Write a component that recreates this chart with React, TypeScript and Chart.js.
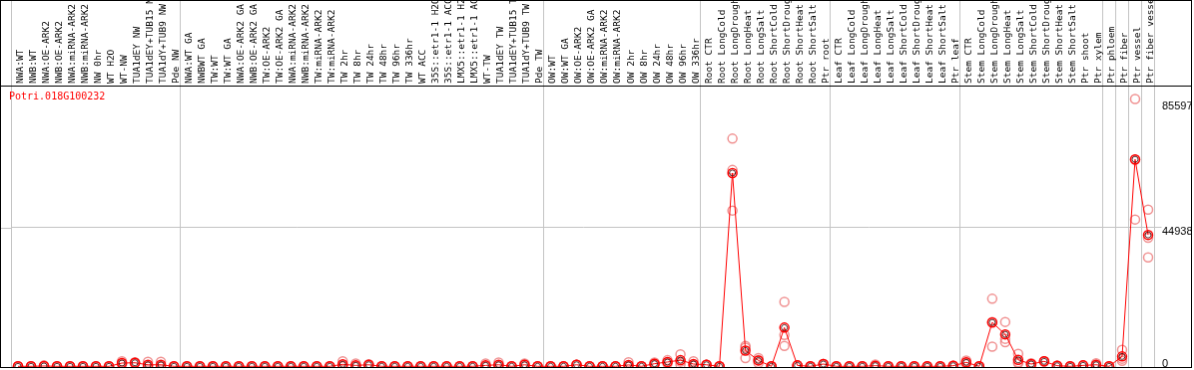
import React, { useEffect, useRef } from "react";
import { Chart, registerables } from "chart.js";

Chart.register(...registerables);

const geneId = "Potri.018G100232";

const categories = [
  "NWA:WT", "NWB:WT", "NWA:OE-ARK2", "NWB:OE-ARK2", "NWA:miRNA-ARK2", "NWB:miRNA-ARK2",
  "NW 0hr", "WT H2O", "WT-NW", "TUA1dEY NW", "TUA1dEY+TUB15 NW", "TUA1dY+TUB9 NW", "Pde NW",
  "NWA:WT GA", "NWBWT GA", "TW:WT", "TW:WT GA", "NWA:OE-ARK2 GA", "NWB:OE-ARK2 GA",
  "TW:OE-ARK2", "TW:OE-ARK2 GA", "NWA:miRNA-ARK2", "NWB:miRNA-ARK2", "TW:miRNA-ARK2",
  "TW:miRNA-ARK2", "TW 2hr", "TW 8hr", "TW 24hr", "TW 48hr", "TW 96hr", "TW 336hr", "WT ACC",
  "35S::etr1-1 H2O", "35S::etr1-1 ACC", "LMX5::etr1-1 H2O", "LMX5::etr1-1 ACC", "WT-TW",
  "TUA1dEY TW", "TUA1dEY+TUB15 TW", "TUA1dY+TUB9 TW", "Pde TW",
  "OW:WT", "OW:WT GA", "OW:OE-ARK2", "OW:OE-ARK2 GA", "OW:miRNA-ARK2", "OW:miRNA-ARK2",
  "OW 2hr", "OW 8hr", "OW 24hr", "OW 48hr", "OW 96hr", "OW 336hr",
  "Root CTR", "Root LongCold", "Root LongDrought", "Root LongHeat", "Root LongSalt",
  "Root ShortCold", "Root ShortDrought", "Root ShortHeat", "Root ShortSalt", "Ptr root",
  "Leaf CTR", "Leaf LongCold", "Leaf LongDrought", "Leaf LongHeat", "Leaf LongSalt",
  "Leaf ShortCold", "Leaf ShortDrought", "Leaf ShortHeat", "Leaf ShortSalt", "Ptr leaf",
  "Stem CTR", "Stem LongCold", "Stem LongDrought", "Stem LongHeat", "Stem LongSalt",
  "Stem ShortCold", "Stem ShortDrought", "Stem ShortHeat", "Stem ShortSalt", "Ptr shoot",
  "Ptr xylem", "Ptr phloem", "Ptr fiber", "Ptr vessel", "Ptr fiber vessel",
];

// mean expression per sample
const meanValues = [
  0, 0, 100, 0, 0, 0, 0, 0, 1060, 1150, 500, 500, 0,
  0, 0, 0, 0, 0, 0, 0, 0, 0, 0, 0, 0, 640, 300, 500, 0, 0, 0, 0, 0, 0, 0, 0, 300, 500, 0, 500, 0,
  0, 0, 500, 0, 0, 0, 450, 0, 850, 1400, 2000, 750,
  500, 0, 62650, 5120, 1900, 0, 12550, 300, 0, 740,
  0, 0, 0, 200, 0, 0, 0, 0, 0, 200,
  1280, 0, 14220, 10370, 2100, 740, 1600, 200, 0, 300,
  500, 0, 3200, 67090, 42600,
];

// biological replicates
const rep1 = [
  0, 0, 300, 0, 0, 0, 0, 0, 1600, 1300, 1500, 1500, 0,
  0, 0, 0, 0, 0, 0, 0, 0, 0, 0, 0, 0, 1600, 900, 700, 0, 0, 0, 0, 0, 0, 0, 0, 900, 1200, 0, 900, 0,
  0, 0, 500, 0, 0, 0, 1300, 0, 1200, 2000, 3900, 1600,
  500, 0, 73800, 6600, 2660, 0, 20900, 300, 0, 740,
  0, 0, 0, 600, 0, 0, 0, 0, 0, 200,
  1900, 0, 21900, 14400, 4050, 1000, 1600, 200, 0, 300,
  1000, 0, 5330, 86670, 50800,
];
const rep2 = [
  0, 0, 0, 0, 0, 0, 0, 0, 1000, 1150, 0, 0, 0,
  0, 0, 0, 0, 0, 0, 0, 0, 0, 0, 0, 0, 300, 0, 500, 0, 0, 0, 0, 0, 0, 0, 0, 0, 300, 0, 600, 0,
  0, 0, 500, 0, 0, 0, 50, 0, 850, 1300, 1500, 400,
  500, 0, 63650, 6100, 1060, 0, 10150, 300, 0, 740,
  0, 0, 0, 0, 0, 0, 0, 0, 0, 200,
  1200, 0, 14360, 8910, 1280, 740, 1600, 200, 0, 300,
  300, 0, 2470, 67000, 41700,
];
const rep3 = [
  0, 0, 0, 0, 0, 0, 0, 0, 600, 1000, 0, 0, 0,
  0, 0, 0, 0, 0, 0, 0, 0, 0, 0, 0, 0, 0, 0, 300, 0, 0, 0, 0, 0, 0, 0, 0, 0, 0, 0, 0, 0,
  0, 0, 500, 0, 0, 0, 0, 0, 500, 900, 600, 250,
  500, 0, 50500, 2660, 2000, 0, 6600, 300, 0, 740,
  0, 0, 0, 0, 0, 0, 0, 0, 0, 200,
  750, 0, 6400, 7800, 970, 480, 1600, 200, 0, 300,
  200, 0, 1800, 47600, 35300,
];

const yTicks = [0, 44938, 85597];
const gridTick = 44938;
// grid lines drawn at the left edge of these category indices (88 = right edge)
const separatorIndices = [0, 13, 41, 53, 63, 73, 84, 85, 86, 87];

const GREY = "#c4c4c4";

export default function App() {
  const canvasRef = useRef<HTMLCanvasElement | null>(null);

  useEffect(() => {
    document.body.style.margin = "0";
    const canvas = canvasRef.current;
    if (!canvas) return;
    const sepSet = new Set(separatorIndices);

    const framePlugin = {
      id: "frame",
      afterDraw(chart: any) {
        const { ctx, chartArea } = chart;
        const xs = chart.scales.x;
        const ys = chart.scales.y;
        ctx.save();
        const gy = Math.round(ys.getPixelForValue(gridTick)) + 0.5;
        ctx.strokeStyle = GREY;
        ctx.lineWidth = 1;
        ctx.beginPath();
        ctx.moveTo(0, gy);
        ctx.lineTo(chartArea.left, gy);
        ctx.stroke();
        const by = Math.round(xs.bottom) + 0.5;
        ctx.strokeStyle = "#000";
        ctx.beginPath();
        ctx.moveTo(0, by);
        ctx.lineTo(chart.width, by);
        ctx.stroke();
        ctx.fillStyle = "#ff0000";
        ctx.font = "10px 'DejaVu Sans Mono', monospace";
        ctx.textBaseline = "alphabetic";
        ctx.textAlign = "left";
        ctx.fillText(geneId, chartArea.left - 2.5, chartArea.top + 14);
        ctx.restore();
      },
    };

    const repStyle = {
      showLine: false,
      pointRadius: 4.5,
      pointBorderWidth: 1.5,
      pointBorderColor: "rgba(235,110,110,0.75)",
      pointBackgroundColor: "rgba(0,0,0,0)",
      borderColor: "rgba(235,110,110,0.75)",
      order: 3,
      clip: false as any,
    };

    const chart = new Chart(canvas, {
      type: "line",
      data: {
        labels: categories,
        datasets: [
          {
            label: "mean-inner",
            data: meanValues,
            showLine: false,
            pointRadius: 3,
            pointBorderWidth: 0.8,
            pointBorderColor: "#300000",
            pointBackgroundColor: "rgba(0,0,0,0)",
            order: 0,
            clip: false as any,
          },
          {
            label: "mean",
            data: meanValues,
            borderColor: "#ff0000",
            borderWidth: 1,
            tension: 0,
            pointRadius: 4.5,
            pointBorderWidth: 1.5,
            pointBorderColor: "#ff0000",
            pointBackgroundColor: "rgba(0,0,0,0)",
            order: 1,
            clip: false as any,
          },
          { label: "rep1", data: rep1, ...repStyle },
          { label: "rep2", data: rep2, ...repStyle },
          { label: "rep3", data: rep3, ...repStyle },
        ],
      },
      options: {
        animation: false,
        responsive: false,
        devicePixelRatio: 1,
        layout: { padding: { left: 10.5, right: 0, top: 0, bottom: 0 }, autoPadding: false },
        plugins: { legend: { display: false }, tooltip: { enabled: false } },
        scales: {
          x: {
            type: "category",
            position: "top",
            offset: true,
            border: { display: false },
            grid: {
              offset: true,
              drawOnChartArea: true,
              drawTicks: true,
              tickLength: 92,
              lineWidth: 1,
              color: (ctx: any) =>
                ctx.type !== "tick" || sepSet.has(ctx.index) ? GREY : "rgba(0,0,0,0)",
            },
            ticks: {
              autoSkip: false,
              maxRotation: 90,
              minRotation: 90,
              padding: -90,
              labelOffset: 12,
              color: "#000",
              font: { family: "'DejaVu Sans Mono', monospace", size: 9.5, lineHeight: 1 },
            },
            afterFit: (s: any) => {
              s.height = 85;
              s.paddingLeft = 0;
              s.paddingRight = 0;
            },
          },
          y: {
            type: "linear",
            position: "right",
            min: -226,
            max: 91000,
            border: { display: false },
            grid: {
              drawTicks: true,
              tickLength: 7,
              lineWidth: 1,
              color: (ctx: any) =>
                ctx.tick && ctx.tick.value === gridTick ? GREY : "rgba(0,0,0,0)",
            },
            afterBuildTicks: (s: any) => {
              s.ticks = yTicks.map((v) => ({ value: v }));
            },
            ticks: {
              padding: 0.5,
              labelOffset: 4,
              color: "#000",
              font: { family: "'Liberation Sans', Arial, sans-serif", size: 11, lineHeight: 1.2 },
              callback: (v: any) => (Number(v) === 0 ? ["0", ""] : String(v)),
            },
            afterFit: (s: any) => {
              s.width = 36.5;
              s.paddingTop = 0;
              s.paddingBottom = 0;
            },
          },
        },
      },
      plugins: [framePlugin],
    });

    return () => chart.destroy();
  }, []);

  return (
    <div style={{ width: 1194, height: 370 }}>
      <canvas
        ref={canvasRef}
        width={1192}
        height={368}
        style={{ display: "block", border: "1px solid #000", width: 1192, height: 368 }}
      />
    </div>
  );
}
